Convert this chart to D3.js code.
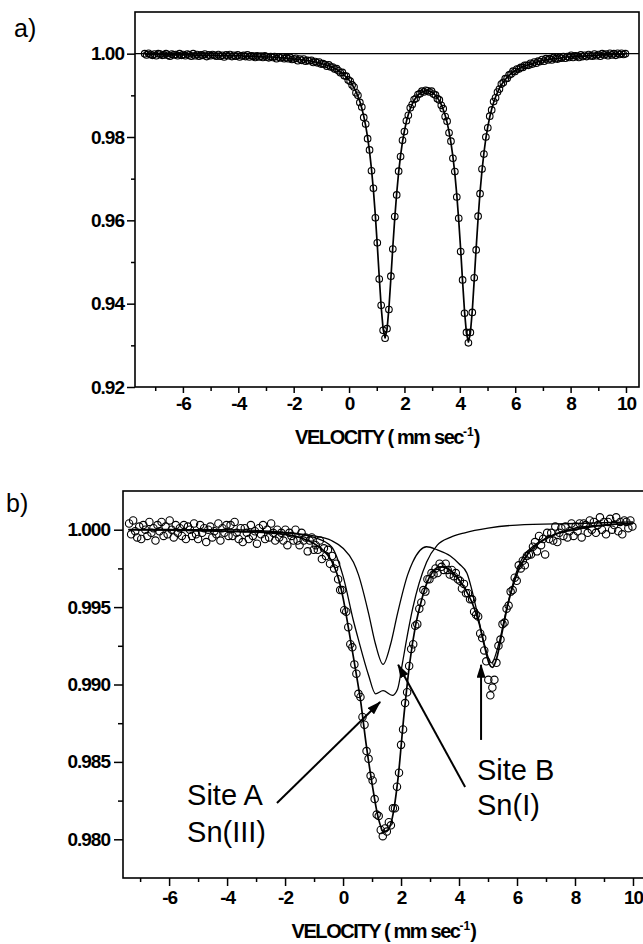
<!DOCTYPE html>
<html lang="en">
<head>
  <meta charset="UTF-8">
  <style>
    body { margin: 0; background: #fff; }
    svg { display: block; font-family: "Liberation Sans", Arial, sans-serif; }
    .frame { fill: none; stroke: #000; stroke-width: 1.6; }
    .axis line { stroke: #000; stroke-width: 1.5; }
    .axis text { font-family: "Liberation Sans", Arial, sans-serif; font-weight: bold; font-size: 19px; letter-spacing: -1px; fill: #000; }
    .title { font-weight: bold; font-size: 20px; letter-spacing: -1.4px; }
    .panel-tag { font-size: 25px; }
    .pts circle { fill: none; stroke: #000; stroke-width: 1.1; }
    .fit { fill: none; stroke: #000; stroke-width: 1.7; stroke-linejoin: round; }
    .sub { fill: none; stroke: #000; stroke-width: 1.3; stroke-linejoin: round; }
    .note { font-size: 29px; }
    .arrow { stroke: #000; stroke-width: 2; }
  </style>
</head>
<body>
  <svg id="chart" width="643" height="944"></svg>
  <script src="https://cdnjs.cloudflare.com/ajax/libs/d3/7.8.5/d3.min.js"></script>
  <script>
    // velocity channels (mm/s), shared by both spectra
    const velocity = [
      -7.38,-7.31,-7.24,-7.17,-7.10,-7.03,-6.96,-6.89,-6.82,-6.75,
      -6.68,-6.61,-6.54,-6.47,-6.40,-6.33,-6.26,-6.19,-6.12,-6.05,
      -5.98,-5.91,-5.84,-5.77,-5.70,-5.63,-5.56,-5.49,-5.42,-5.35,
      -5.28,-5.21,-5.14,-5.07,-5.00,-4.93,-4.86,-4.79,-4.72,-4.65,
      -4.58,-4.51,-4.44,-4.37,-4.30,-4.23,-4.16,-4.09,-4.02,-3.95,
      -3.88,-3.81,-3.74,-3.67,-3.60,-3.53,-3.46,-3.39,-3.32,-3.25,
      -3.18,-3.11,-3.04,-2.97,-2.90,-2.83,-2.76,-2.69,-2.62,-2.55,
      -2.48,-2.41,-2.34,-2.27,-2.20,-2.13,-2.06,-1.99,-1.92,-1.85,
      -1.78,-1.71,-1.64,-1.57,-1.50,-1.43,-1.36,-1.29,-1.22,-1.15,
      -1.08,-1.01,-0.94,-0.87,-0.80,-0.73,-0.66,-0.59,-0.52,-0.45,
      -0.38,-0.31,-0.24,-0.17,-0.10,-0.03,0.04,0.11,0.18,0.25,
      0.32,0.39,0.46,0.53,0.60,0.67,0.74,0.81,0.88,0.95,
      1.02,1.09,1.16,1.23,1.30,1.37,1.44,1.51,1.58,1.65,
      1.72,1.79,1.86,1.93,2.00,2.07,2.14,2.21,2.28,2.35,
      2.42,2.49,2.56,2.63,2.70,2.77,2.84,2.91,2.98,3.05,
      3.12,3.19,3.26,3.33,3.40,3.47,3.54,3.61,3.68,3.75,
      3.82,3.89,3.96,4.03,4.10,4.17,4.24,4.31,4.38,4.45,
      4.52,4.59,4.66,4.73,4.80,4.87,4.94,5.01,5.08,5.15,
      5.22,5.29,5.36,5.43,5.50,5.57,5.64,5.71,5.78,5.85,
      5.92,5.99,6.06,6.13,6.20,6.27,6.34,6.41,6.48,6.55,
      6.62,6.69,6.76,6.83,6.90,6.97,7.04,7.11,7.18,7.25,
      7.32,7.39,7.46,7.53,7.60,7.67,7.74,7.81,7.88,7.95,
      8.02,8.09,8.16,8.23,8.30,8.37,8.44,8.51,8.58,8.65,
      8.72,8.79,8.86,8.93,9.00,9.07,9.14,9.21,9.28,9.35,
      9.42,9.49,9.56,9.63,9.70,9.77,9.84,9.91,9.98
    ]

    // spectrum a) measured relative transmission
    const countsA = [
      1.0000,0.9997,1.0001,0.9998,0.9996,0.9999,0.9995,1.0000,0.9999,0.9996,
      0.9997,1.0000,0.9996,0.9994,0.9999,0.9997,0.9998,0.9995,1.0000,0.9996,
      0.9998,0.9995,0.9999,0.9997,0.9994,1.0000,0.9995,0.9998,0.9994,0.9997,
      0.9996,0.9999,0.9993,0.9997,0.9995,0.9998,0.9996,0.9994,0.9998,0.9994,
      0.9996,0.9992,0.9997,0.9995,0.9998,0.9993,0.9996,0.9994,0.9997,0.9992,
      0.9995,0.9996,0.9993,0.9997,0.9992,0.9995,0.9994,0.9991,0.9995,0.9992,
      0.9994,0.9991,0.9995,0.9992,0.9990,0.9993,0.9991,0.9993,0.9988,0.9992,
      0.9990,0.9992,0.9988,0.9990,0.9988,0.9991,0.9986,0.9987,0.9989,0.9983,
      0.9987,0.9984,0.9987,0.9982,0.9984,0.9983,0.9984,0.9979,0.9981,0.9978,
      0.9980,0.9975,0.9976,0.9974,0.9970,0.9973,0.9968,0.9968,0.9963,0.9964,
      0.9959,0.9954,0.9955,0.9947,0.9946,0.9937,0.9934,0.9925,0.9920,0.9906,
      0.9900,0.9883,0.9872,0.9847,0.9831,0.9796,0.9769,0.9719,0.9677,0.9606,
      0.9546,0.9459,0.9396,0.9336,0.9317,0.9340,0.9386,0.9466,0.9531,0.9609,
      0.9661,0.9718,0.9753,0.9792,0.9813,0.9839,0.9852,0.9870,0.9878,0.9890,
      0.9893,0.9902,0.9904,0.9910,0.9908,0.9912,0.9911,0.9908,0.9910,0.9903,
      0.9901,0.9892,0.9889,0.9876,0.9868,0.9849,0.9838,0.9810,0.9790,0.9749,
      0.9717,0.9656,0.9605,0.9525,0.9457,0.9377,0.9331,0.9306,0.9331,0.9379,
      0.9462,0.9529,0.9610,0.9664,0.9723,0.9759,0.9800,0.9822,0.9850,0.9865,
      0.9885,0.9894,0.9908,0.9915,0.9927,0.9931,0.9940,0.9941,0.9949,0.9951,
      0.9958,0.9957,0.9963,0.9963,0.9967,0.9967,0.9972,0.9972,0.9972,0.9977,
      0.9975,0.9980,0.9977,0.9982,0.9981,0.9986,0.9982,0.9988,0.9985,0.9988,
      0.9985,0.9991,0.9988,0.9987,0.9991,0.9989,0.9993,0.9989,0.9993,0.9991,
      0.9996,0.9991,0.9995,0.9994,0.9991,0.9997,0.9993,0.9996,0.9993,0.9998,
      0.9995,0.9994,0.9999,0.9995,0.9998,0.9994,1.0000,0.9997,0.9999,0.9995,
      1.0001,0.9997,1.0000,0.9996,1.0001,0.9998,1.0001,0.9998,1.0000
    ]

    // spectrum a) fitted doublet, at the same channels
    const fitA = [
      0.9998,0.9998,0.9998,0.9998,0.9998,0.9998,0.9998,0.9998,0.9998,0.9998,
      0.9997,0.9997,0.9997,0.9997,0.9997,0.9997,0.9997,0.9997,0.9997,0.9997,
      0.9997,0.9997,0.9997,0.9997,0.9997,0.9997,0.9996,0.9996,0.9996,0.9996,
      0.9996,0.9996,0.9996,0.9996,0.9996,0.9996,0.9996,0.9996,0.9995,0.9995,
      0.9995,0.9995,0.9995,0.9995,0.9995,0.9995,0.9995,0.9995,0.9995,0.9995,
      0.9995,0.9994,0.9994,0.9994,0.9994,0.9994,0.9994,0.9994,0.9993,0.9993,
      0.9993,0.9993,0.9992,0.9992,0.9992,0.9992,0.9992,0.9991,0.9991,0.9991,
      0.9990,0.9990,0.9990,0.9989,0.9989,0.9988,0.9988,0.9987,0.9987,0.9986,
      0.9986,0.9985,0.9985,0.9984,0.9983,0.9983,0.9982,0.9981,0.9980,0.9979,
      0.9978,0.9977,0.9975,0.9974,0.9972,0.9971,0.9969,0.9967,0.9965,0.9962,
      0.9959,0.9956,0.9953,0.9948,0.9944,0.9939,0.9933,0.9926,0.9918,0.9909,
      0.9898,0.9885,0.9869,0.9850,0.9827,0.9799,0.9765,0.9723,0.9672,0.9611,
      0.9540,0.9464,0.9392,0.9339,0.9318,0.9337,0.9390,0.9461,0.9536,0.9605,
      0.9665,0.9715,0.9756,0.9789,0.9815,0.9837,0.9854,0.9868,0.9879,0.9888,
      0.9895,0.9901,0.9905,0.9908,0.9910,0.9911,0.9911,0.9910,0.9908,0.9904,
      0.9900,0.9894,0.9887,0.9878,0.9866,0.9852,0.9835,0.9813,0.9786,0.9753,
      0.9712,0.9661,0.9600,0.9530,0.9453,0.9381,0.9328,0.9308,0.9329,0.9383,
      0.9457,0.9534,0.9605,0.9668,0.9719,0.9762,0.9797,0.9825,0.9848,0.9867,
      0.9883,0.9896,0.9907,0.9917,0.9925,0.9932,0.9938,0.9943,0.9948,0.9952,
      0.9956,0.9959,0.9961,0.9964,0.9966,0.9969,0.9970,0.9972,0.9974,0.9975,
      0.9976,0.9978,0.9979,0.9981,0.9982,0.9984,0.9984,0.9985,0.9986,0.9987,
      0.9987,0.9988,0.9988,0.9989,0.9989,0.9990,0.9991,0.9992,0.9992,0.9992,
      0.9993,0.9993,0.9993,0.9994,0.9994,0.9994,0.9994,0.9994,0.9995,0.9995,
      0.9995,0.9996,0.9996,0.9996,0.9996,0.9997,0.9997,0.9997,0.9997,0.9997,
      0.9998,0.9998,0.9998,0.9998,0.9998,0.9998,0.9999,0.9999,0.9999
    ]

    // spectrum b) measured relative transmission
    const countsB = [
      1.0004,0.9997,1.0006,0.9999,0.9995,1.0002,0.9994,1.0003,1.0000,0.9996,
      1.0005,0.9998,1.0001,0.9993,1.0003,0.9999,1.0005,0.9996,1.0002,0.9997,
      1.0006,1.0000,0.9995,1.0003,0.9998,1.0001,0.9996,1.0003,0.9994,1.0002,
      1.0000,0.9996,1.0004,0.9997,0.9994,1.0003,0.9998,1.0001,0.9992,1.0000,
      1.0002,0.9995,0.9999,0.9997,1.0004,0.9993,1.0001,0.9998,1.0003,0.9996,
      1.0003,0.9996,1.0005,0.9998,0.9994,1.0001,0.9992,1.0001,0.9998,0.9994,
      1.0003,0.9996,0.9999,0.9991,1.0001,0.9997,1.0003,0.9994,1.0000,0.9995,
      1.0004,0.9998,0.9993,1.0000,0.9995,0.9998,0.9993,1.0000,0.9990,0.9998,
      0.9996,0.9993,1.0000,0.9993,0.9990,0.9998,0.9993,0.9995,0.9986,0.9993,
      0.9995,0.9987,0.9990,0.9987,0.9993,0.9981,0.9988,0.9983,0.9987,0.9978,
      0.9983,0.9975,0.9978,0.9968,0.9961,0.9961,0.9948,0.9947,0.9937,0.9926,
      0.9924,0.9913,0.9907,0.9894,0.9892,0.9879,0.9874,0.9857,0.9852,0.9841,
      0.9838,0.9826,0.9816,0.9815,0.9806,0.9802,0.9807,0.9805,0.9811,0.9809,
      0.9820,0.9820,0.9834,0.9843,0.9861,0.9871,0.9888,0.9895,0.9912,0.9923,
      0.9926,0.9938,0.9939,0.9949,0.9953,0.9961,0.9960,0.9968,0.9968,0.9972,
      0.9971,0.9975,0.9972,0.9978,0.9976,0.9974,0.9978,0.9974,0.9971,0.9974,
      0.9970,0.9972,0.9968,0.9967,0.9962,0.9965,0.9959,0.9959,0.9955,0.9955,
      0.9947,0.9945,0.9944,0.9933,0.9930,0.9922,0.9915,0.9903,0.9893,0.9898,
      0.9903,0.9914,0.9925,0.9929,0.9939,0.9940,0.9949,0.9951,0.9960,0.9961,
      0.9969,0.9967,0.9977,0.9975,0.9980,0.9977,0.9983,0.9984,0.9984,0.9989,
      0.9992,0.9986,0.9996,0.9990,0.9994,0.9984,0.9998,0.9994,0.9998,0.9993,
      1.0002,0.9992,0.9998,1.0001,0.9996,1.0002,0.9995,0.9999,1.0004,0.9996,
      1.0002,0.9999,1.0004,0.9995,1.0004,1.0003,0.9998,1.0006,1.0000,1.0005,
      0.9998,1.0003,1.0008,1.0000,1.0005,0.9997,1.0005,1.0007,1.0000,1.0003,
      1.0008,0.9999,1.0005,0.9997,1.0006,1.0005,1.0001,1.0006,1.0002
    ]

    // spectrum b) total fit
    const fitBVel = [-7.4,-6,-5,-4,-3,-2.5,-2,-1.5,-1,-0.7,-0.4,-0.2,0,0.2,0.4,0.6,0.8,1.0,1.2,1.4,
      1.55,1.7,1.9,2.1,2.3,2.5,2.7,2.9,3.1,3.35,3.6,3.9,4.2,4.45,4.7,4.9,5.05,5.15,5.3,5.5,
      5.7,5.9,6.1,6.4,6.8,7.3,8,9,10]
    const fitB = [1.0000,1.0000,0.99995,0.9999,0.99985,0.9998,0.9997,0.9995,0.9991,0.9987,
      0.9980,0.9971,0.9956,0.9935,0.9913,0.9890,0.9861,0.9836,0.9815,0.9805,
      0.9806,0.9814,0.9840,0.9880,0.9914,0.9938,0.9954,0.9966,0.9973,0.9976,
      0.9975,0.9970,0.9962,0.9953,0.9939,0.9923,0.9913,0.9911,0.9917,0.9935,
      0.9953,0.9966,0.9976,0.9985,0.9992,0.9997,1.0000,1.0003,1.0004]

    // spectrum b) Site A component (Sn(III))
    const siteAVel = [-7.4,-4,-2.5,-1.5,-1,-0.4,0,0.36,0.53,0.88,1.12,1.38,1.7,1.88,2.05,2.23,2.4,2.88,3.25,3.7,
      4.2,5,6,8,10]
    const siteA = [1.0000,1.0000,0.9999,0.9997,0.9995,0.9989,0.9970,0.9941,0.9929,0.9906,
      0.9894,0.9896,0.9893,0.9897,0.9914,0.9933,0.9949,0.9979,0.9990,0.9995,
      0.9998,1.0001,1.0003,1.0004,1.0005]

    // spectrum b) Site B component (Sn(I))
    const siteBVel = [-7.4,-4,-2,-1,-0.4,0,0.36,0.53,0.88,1.12,1.38,1.64,1.88,2.23,2.4,2.88,3.25,3.7,4.0,4.27,
      4.62,4.86,5.12,5.38,5.62,5.97,6.14,6.6,7.1,8,9,10]
    const siteB = [1.0000,0.9999,0.9998,0.9996,0.9993,0.9988,0.9979,0.9971,0.9946,0.9926,
      0.9913,0.9926,0.9946,0.9971,0.9979,0.9989,0.9987,0.9983,0.9978,0.9972,
      0.9947,0.9927,0.9914,0.9927,0.9947,0.9972,0.9980,0.9990,0.9995,1.0001,1.0003,1.0004]

    // ticks
    const xMajor = [-6, -4, -2, 0, 2, 4, 6, 8, 10]
    const xMinor = [-7, -5, -3, -1, 1, 3, 5, 7, 9]
    const yMajorA = [0.92, 0.94, 0.96, 0.98, 1.00]
    const yMinorA = [0.93, 0.95, 0.97, 0.99]
    const yMajorB = [0.980, 0.985, 0.990, 0.995, 1.000]
    const yMinorB = [0.9825, 0.9875, 0.9925, 0.9975]

    // annotations of b) in data units
    const arrowsB = [
      { from: [-2.28, 0.98234], to: [1.28, 0.98887] },
      { from: [4.21, 0.98338], to: [1.90, 0.99127] },
      { from: [4.76, 0.98642], to: [4.76, 0.99127] }
    ]
    const notesB = [
      { v: -5.38, y: [0.98221, 0.97982], text: ['Site A', 'Sn(III)'] },
      { v: 4.62, y: [0.98383, 0.98157], text: ['Site B', 'Sn(I)'] }
    ]

    const svg = d3.select('#chart')

    svg.append('defs').append('marker')
        .attr('id', 'head')
        .attr('viewBox', '0 0 14 9')
        .attr('refX', 13)
        .attr('refY', 4.5)
        .attr('markerWidth', 14)
        .attr('markerHeight', 9)
        .attr('markerUnits', 'userSpaceOnUse')
        .attr('orient', 'auto')
      .append('path')
        .attr('d', 'M0,0L14,4.5L0,9Z')
        .attr('fill', '#000')

    // draws frame, ticks and title for one panel
    function drawAxes(box, x, y, opt) {
      const g = svg.append('g')
      const bottom = g.append('g')
          .attr('class', 'axis')
          .attr('transform', `translate(0,${box.bottom})`)
      bottom.append('g')
          .call(d3.axisBottom(x).tickValues(xMajor).tickSize(opt.xLen).tickPadding(opt.xPad)
            .tickFormat(d => String(d)))
      bottom.append('g')
          .call(d3.axisBottom(x).tickValues(xMinor).tickSize(4).tickFormat(''))
      const left = g.append('g')
          .attr('class', 'axis')
          .attr('transform', `translate(${box.left},0)`)
      left.append('g')
          .call(d3.axisLeft(y).tickValues(opt.yMajor).tickSize(opt.yLen).tickPadding(opt.yPad)
            .tickFormat(d3.format(opt.yFmt)))
      left.append('g')
          .call(d3.axisLeft(y).tickValues(opt.yMinor).tickSize(opt.yMinorLen).tickFormat(''))
      g.selectAll('.domain').remove()

      g.append('rect')
          .attr('class', 'frame')
          .attr('x', box.left)
          .attr('y', box.top)
          .attr('width', box.right - box.left)
          .attr('height', box.bottom - box.top)

      const t = g.append('text')
          .attr('class', 'title')
          .attr('x', (box.left + box.right) / 2 + opt.titleDx)
          .attr('y', opt.titleY)
          .attr('text-anchor', 'middle')
      t.append('tspan').text('VELOCITY ( mm sec')
      t.append('tspan').attr('dy', -8).style('font-size', '12px').style('letter-spacing', '0px').text('-1')
      t.append('tspan').attr('dy', 8).text(')')

      g.append('text')
          .attr('class', 'panel-tag')
          .attr('x', opt.tag[0])
          .attr('y', opt.tag[1])
          .text(opt.tagText)
    }

    // Panel a
    // =======
    const boxA = { left: 135, right: 639, top: 12, bottom: 387 }
    const xA = d3.scaleLinear().domain([-7.73, 10.47]).range([boxA.left, boxA.right])
    const yA = d3.scaleLinear().domain([0.92, 1.01]).range([boxA.bottom, boxA.top])

    drawAxes(boxA, xA, yA, {
      xLen: 6, xPad: 4, yLen: 8, yPad: 3, yMinorLen: 4,
      yMajor: yMajorA, yMinor: yMinorA, yFmt: '.2f',
      titleDx: 0, titleY: 444, tag: [14, 37], tagText: 'a)'
    })

    // reference line at 1.00
    svg.append('line')
        .attr('x1', boxA.left).attr('x2', boxA.right)
        .attr('y1', yA(1)).attr('y2', yA(1))
        .attr('stroke', '#000').attr('stroke-width', 1.2)

    svg.append('g')
        .attr('class', 'pts')
      .selectAll('circle')
        .data(d3.zip(velocity, countsA))
      .join('circle')
        .attr('cx', d => xA(d[0]))
        .attr('cy', d => yA(d[1]))
        .attr('r', 3.3)

    const lineA = d3.line().x(d => xA(d[0])).y(d => yA(d[1]))
    svg.append('path')
        .attr('class', 'fit')
        .datum(d3.zip(velocity, fitA))
        .attr('d', lineA)

    // Panel b
    // =======
    const boxB = { left: 123, right: 644, top: 491, bottom: 878 }
    const xB = d3.scaleLinear().domain([-7.59, 10.38]).range([boxB.left, boxB.right])
    const yB = d3.scaleLinear().domain([0.9775, 1.0025]).range([boxB.bottom, boxB.top])

    drawAxes(boxB, xB, yB, {
      xLen: 8, xPad: 5, yLen: 9, yPad: 4, yMinorLen: 5,
      yMajor: yMajorB, yMinor: yMinorB, yFmt: '.3f',
      titleDx: 0, titleY: 938, tag: [6, 512], tagText: 'b)'
    })

    svg.append('g')
        .attr('class', 'pts')
      .selectAll('circle')
        .data(d3.zip(velocity, countsB))
      .join('circle')
        .attr('cx', d => xB(d[0]))
        .attr('cy', d => yB(d[1]))
        .attr('r', 3.7)

    const lineB = d3.line().x(d => xB(d[0])).y(d => yB(d[1])).curve(d3.curveMonotoneX)
    svg.append('path')
        .attr('class', 'sub')
        .datum(d3.zip(siteAVel, siteA))
        .attr('d', lineB)
    svg.append('path')
        .attr('class', 'sub')
        .datum(d3.zip(siteBVel, siteB))
        .attr('d', lineB)
    svg.append('path')
        .attr('class', 'fit')
        .datum(d3.zip(fitBVel, fitB))
        .attr('d', lineB)

    // arrows and labels
    svg.append('g')
      .selectAll('line')
        .data(arrowsB)
      .join('line')
        .attr('class', 'arrow')
        .attr('x1', d => xB(d.from[0])).attr('y1', d => yB(d.from[1]))
        .attr('x2', d => xB(d.to[0])).attr('y2', d => yB(d.to[1]))
        .attr('marker-end', 'url(#head)')

    notesB.forEach(n => {
      n.text.forEach((s, i) => {
        svg.append('text')
            .attr('class', 'note')
            .attr('x', xB(n.v))
            .attr('y', yB(n.y[i]))
            .text(s)
      })
    })
  </script>
</body>
</html>
